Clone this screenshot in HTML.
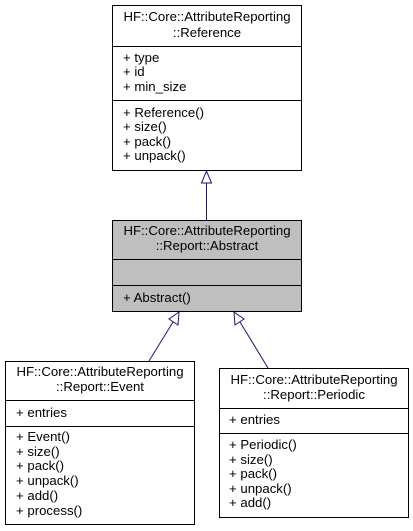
<!DOCTYPE html>
<html><head><style>body{margin:0;background:#fff}svg{display:block}text{font-family:"Liberation Sans",sans-serif;font-size:13.2px;fill:#000}</style></head><body>
<svg width="413" height="531" viewBox="0 0 413 531">
<g stroke="#000" stroke-width="1" fill="#fff">
<rect x="112.5" y="5.5" width="189" height="165"/>
<line x1="112.5" y1="46.5" x2="301.5" y2="46.5"/>
<line x1="112.5" y1="100.5" x2="301.5" y2="100.5"/>
<rect x="112.5" y="220.5" width="189" height="91" fill="#bfbfbf"/>
<line x1="112.5" y1="259.5" x2="301.5" y2="259.5"/>
<line x1="112.5" y1="285.5" x2="301.5" y2="285.5"/>
<rect x="5.5" y="361.5" width="189" height="163"/>
<line x1="5.5" y1="400.5" x2="194.5" y2="400.5"/>
<line x1="5.5" y1="426.5" x2="194.5" y2="426.5"/>
<rect x="219.5" y="368.5" width="189" height="149"/>
<line x1="219.5" y1="408.5" x2="408.5" y2="408.5"/>
<line x1="219.5" y1="433.5" x2="408.5" y2="433.5"/>
</g>
<g stroke="#191970" stroke-width="1" fill="#fff">
<line x1="206.5" y1="182" x2="206.5" y2="220"/>
<polygon points="206.5,171 201.5,183 211.5,183"/>
<line x1="173" y1="322" x2="149" y2="361"/>
<polygon points="179,312 169,319 178,325"/>
<line x1="240" y1="322" x2="268" y2="368"/>
<polygon points="234,312 235,325 244,319"/>
</g>
<g text-anchor="middle">
<text x="207" y="21">HF::Core::AttributeReporting</text>
<text x="207" y="37">::Reference</text>
<text x="207" y="235">HF::Core::AttributeReporting</text>
<text x="207" y="250">::Report::Abstract</text>
<text x="100" y="376">HF::Core::AttributeReporting</text>
<text x="100" y="391">::Report::Event</text>
<text x="314" y="384">HF::Core::AttributeReporting</text>
<text x="314" y="399">::Report::Periodic</text>
</g>
<text x="123" y="62">+ type</text>
<text x="123" y="76">+ id</text>
<text x="123" y="91">+ min_size</text>
<text x="123" y="117">+ Reference()</text>
<text x="123" y="131">+ size()</text>
<text x="123" y="146">+ pack()</text>
<text x="123" y="160">+ unpack()</text>
<text x="123" y="302">+ Abstract()</text>
<text x="16" y="417">+ entries</text>
<text x="16" y="441">+ Event()</text>
<text x="16" y="456">+ size()</text>
<text x="16" y="470">+ pack()</text>
<text x="16" y="485">+ unpack()</text>
<text x="16" y="500">+ add()</text>
<text x="16" y="515">+ process()</text>
<text x="229" y="424">+ entries</text>
<text x="229" y="449">+ Periodic()</text>
<text x="229" y="464">+ size()</text>
<text x="229" y="478">+ pack()</text>
<text x="229" y="493">+ unpack()</text>
<text x="229" y="507">+ add()</text>
</svg>
</body></html>
